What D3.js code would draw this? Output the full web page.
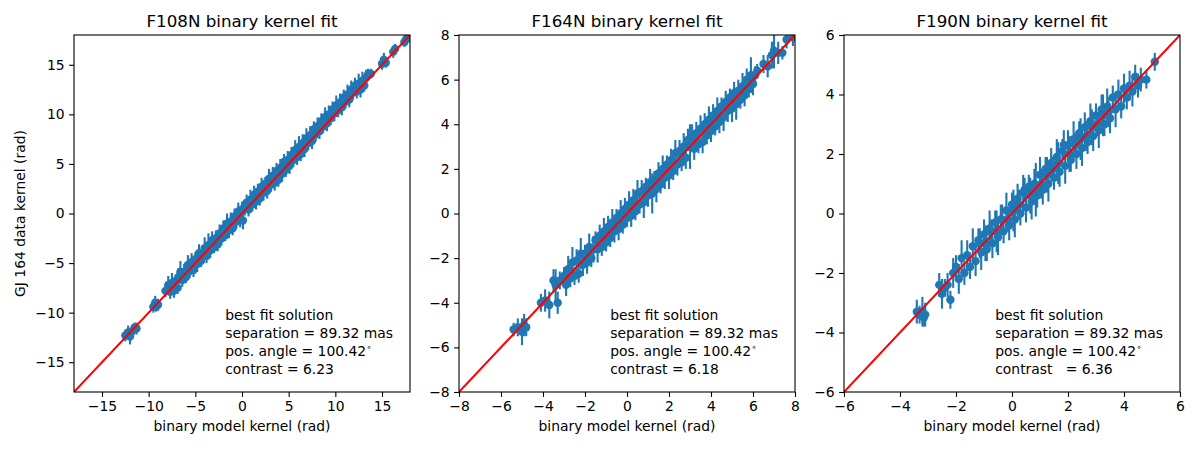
<!DOCTYPE html>
<html>
<head>
<meta charset="utf-8">
<script src="https://cdn.jsdelivr.net/npm/d3@7"></script>
<style>
  body { margin: 0; background: #fff; }
  text { font-family: "DejaVu Sans", sans-serif; fill: #000; }
</style>
</head>
<body>
<div id="chart"></div>
<script>
// [model kernel, data kernel, error]
const f108 = [
  [-12.5,-12.3,0.6],[-12.2,-12.0,0.7],[-12.0,-12.4,0.8],[-11.8,-11.9,0.6],[-11.5,-11.5,0.5],[-11.3,-11.6,0.6],
  [-9.5,-9.4,0.6],[-9.3,-9.0,0.7],[-9.2,-9.4,0.5],[-9.0,-9.2,0.6],
  [-8.2,-7.8,0.6],[-7.9,-7.2,0.9],[-7.7,-7.9,0.7],[-7.5,-7.0,1.0],[-7.3,-7.8,0.7],[-7.1,-6.8,0.6],[-6.9,-7.5,0.6],
  [-6.8,-6.4,0.9],[-6.6,-5.9,1.1],[-6.4,-6.7,0.7],[-6.2,-5.9,0.8],[-6.0,-6.4,0.6],[-5.8,-5.2,1.0],[-5.6,-5.8,0.7],
  [-5.4,-4.9,0.9],[-5.2,-5.7,0.7],[-5.0,-4.6,0.7],[-4.8,-5.1,0.8],[-4.6,-4.0,0.9],[-4.4,-4.8,0.6],[-4.2,-4.0,0.8],
  [-4.0,-3.5,1.1],[-3.8,-4.3,0.7],[-3.6,-3.2,1.2],[-3.4,-3.7,0.8],[-3.2,-2.7,0.9],[-3.0,-3.4,0.6],[-2.8,-2.5,0.8],
  [-2.6,-3.1,0.7],[-2.4,-2.0,0.9],[-2.2,-2.5,0.7],[-2.0,-1.5,0.8],[-1.8,-2.2,0.6],[-1.6,-1.0,1.0],[-1.4,-1.7,0.8],
  [-1.2,-0.8,0.9],[-1.0,-1.5,0.7],[-0.8,-0.3,0.8],[-0.6,-0.8,0.7],[-0.4,0.2,0.9],[-0.2,-0.6,0.8],[0.0,0.4,0.8],
  [0.1,-0.7,0.9],[0.3,0.5,0.7],[0.5,1.1,0.8],[0.7,0.4,0.7],[0.9,1.4,1.0],[1.1,0.9,0.7],[1.3,1.9,0.9],[1.5,1.2,0.8],
  [1.7,2.2,0.8],[1.9,1.5,0.7],[2.1,2.7,0.9],[2.3,2.1,0.8],[2.5,3.0,0.7],[2.7,2.3,0.8],[2.9,3.5,1.0],[3.1,2.9,0.7],
  [3.3,3.8,0.9],[3.5,3.1,0.8],[3.7,4.3,0.8],[3.9,3.4,0.7],[4.1,4.6,0.9],[4.3,4.0,0.8],[4.5,5.2,0.8],[4.7,4.4,0.7],
  [4.9,5.4,0.9],[5.1,4.8,0.8],[5.3,5.9,0.8],[5.5,5.4,0.7],[5.7,6.4,1.0],[5.9,5.7,0.8],[6.1,6.7,1.1],[6.3,6.0,0.7],
  [6.5,7.1,0.9],[6.7,6.5,0.8],[6.9,7.6,1.0],[7.1,7.1,0.7],[7.3,7.9,0.9],[7.5,7.3,0.8],[7.7,8.5,0.8],[7.9,8.0,0.7],
  [8.1,8.8,0.9],[8.3,8.3,0.8],[8.5,9.3,0.8],[8.7,8.8,0.7],[8.9,9.7,1.0],[9.1,9.1,0.8],[9.3,10.0,0.9],[9.5,9.6,0.7],
  [9.7,10.5,0.8],[9.9,10.1,0.8],[10.1,10.9,1.0],[10.3,10.4,0.7],[10.5,11.2,0.9],[10.7,10.7,0.8],[10.9,11.7,0.8],
  [11.1,11.3,0.7],[11.3,12.0,1.0],[11.5,11.5,0.8],[11.7,12.5,0.9],[11.9,12.2,0.7],[12.1,12.9,0.8],[12.3,12.3,0.7],
  [12.5,13.1,1.0],[12.7,12.5,0.8],[12.9,13.4,0.9],[13.1,12.9,0.6],[13.3,13.7,0.8],[13.5,14.0,0.6],[13.8,14.1,0.5],
  [15.0,15.1,0.6],[15.2,15.5,0.7],[15.4,15.2,0.5],[16.2,16.3,0.6],[16.4,16.6,0.5],
  [17.4,17.3,0.5],[17.6,17.6,0.6],[17.8,17.7,0.4]
];

const f164 = [
  [-5.4,-5.2,0.3],[-5.2,-5.1,0.4],[-5.0,-5.3,0.6],[-4.9,-5.0,0.5],[-4.8,-5.1,0.4],
  [-4.1,-4.0,0.4],[-3.9,-3.9,0.5],[-3.7,-4.1,0.6],[-3.5,-3.0,0.5],[-3.4,-3.2,0.7],[-3.3,-4.0,0.5],[-3.2,-3.0,0.4],
  [-3.0,-2.8,0.4],[-2.9,-3.2,0.5],[-2.8,-2.5,0.6],[-2.7,-2.9,0.4],[-2.6,-2.2,0.7],[-2.5,-2.8,0.4],[-2.4,-2.1,0.5],
  [-2.3,-2.7,0.4],[-2.2,-1.8,0.7],[-2.1,-2.3,0.5],[-2.0,-1.8,0.4],[-1.9,-2.2,0.5],[-1.8,-1.5,0.6],[-1.7,-2.0,0.4],
  [-1.6,-1.6,0.6],[-1.5,-1.2,0.4],[-1.4,-1.6,0.6],[-1.3,-1.0,0.5],[-1.2,-1.5,0.4],[-1.1,-0.8,0.6],[-1.0,-1.3,0.4],
  [-0.9,-0.6,0.5],[-0.8,-1.1,0.4],[-0.7,-0.4,0.6],[-0.6,-0.8,0.5],[-0.5,-0.2,0.4],[-0.4,-0.7,0.5],[-0.3,0.0,0.6],
  [-0.2,-0.5,0.4],[-0.1,0.2,0.5],[0.0,-0.2,0.4],[0.1,0.4,0.6],[0.2,-0.1,0.5],[0.3,0.6,0.5],[0.4,0.1,0.4],
  [0.5,0.9,0.6],[0.6,0.4,0.4],[0.7,1.0,0.5],[0.8,0.5,0.7],[0.9,1.2,0.4],[1.0,0.8,0.5],[1.1,1.4,0.6],[1.2,0.9,0.9],
  [1.3,1.5,0.4],[1.4,1.1,0.6],[1.5,1.8,0.5],[1.6,1.3,0.4],[1.7,2.0,0.6],[1.8,1.6,0.5],[1.9,2.2,0.4],[2.0,1.7,0.6],
  [2.1,2.4,0.5],[2.2,1.9,0.4],[2.3,2.7,0.6],[2.4,2.2,0.5],[2.5,2.8,0.5],[2.6,2.3,0.4],[2.7,3.0,0.6],[2.8,2.5,0.5],
  [2.9,3.3,0.5],[3.0,3.0,1.0],[3.1,3.4,0.6],[3.2,2.9,0.5],[3.3,3.6,0.5],[3.4,3.1,0.4],[3.5,3.8,0.6],[3.6,3.2,0.5],
  [3.7,4.0,0.5],[3.8,3.5,0.4],[3.9,4.2,0.6],[4.0,3.7,0.5],[4.1,4.4,0.5],[4.2,3.9,0.4],[4.3,4.6,0.6],[4.4,4.1,0.5],
  [4.5,4.8,0.4],[4.6,4.3,0.6],[4.7,5.0,0.5],[4.8,4.6,0.5],[4.9,5.2,0.4],[5.0,4.7,0.6],[5.1,5.4,0.5],[5.2,4.9,0.7],
  [5.3,5.5,0.5],[5.4,5.1,0.4],[5.5,5.7,0.6],[5.6,5.3,0.5],[5.7,6.0,0.5],[5.8,5.6,0.4],[5.9,6.2,0.8],[6.0,5.8,0.5],
  [6.1,6.2,0.4],[6.2,6.4,0.3],[6.5,6.7,0.4],[6.7,6.6,0.5],[6.9,7.1,0.6],[7.0,7.3,0.8],[7.2,7.2,0.5],[7.4,7.2,0.3],
  [7.6,7.8,0.4],[7.9,7.9,0.4]
];

const f190 = [
  [-3.4,-3.3,0.4],[-3.3,-3.4,0.3],[-3.2,-3.3,0.5],[-3.15,-3.5,0.3],[-3.1,-3.4,0.4],
  [-2.6,-2.4,0.4],[-2.5,-2.7,0.5],[-2.4,-2.5,0.3],[-2.3,-2.4,0.4],[-2.2,-2.9,0.3],[-2.1,-2.0,0.5],
  [-2.0,-1.8,0.4],[-1.9,-2.2,0.5],[-1.8,-1.5,0.6],[-1.7,-2.0,0.4],[-1.6,-1.4,0.5],[-1.5,-1.8,0.4],[-1.4,-1.1,0.6],
  [-1.3,-1.6,0.5],[-1.2,-0.9,0.4],[-1.15,-1.0,0.5],[-1.1,-1.3,0.6],[-1.0,-0.7,0.5],[-0.95,-1.0,0.6],[-0.9,-1.2,0.4],
  [-0.8,-0.5,0.6],[-0.75,-0.6,0.4],[-0.7,-1.0,0.5],[-0.6,-0.3,0.4],[-0.55,-0.6,0.7],[-0.5,-0.8,0.6],[-0.4,-0.2,0.5],
  [-0.35,-0.2,0.5],[-0.3,-0.6,0.4],[-0.2,0.1,0.6],[-0.15,-0.2,0.4],[-0.1,-0.4,0.5],[0.0,0.3,0.4],[0.05,0.1,0.7],
  [0.1,-0.2,0.6],[0.2,0.5,0.5],[0.25,0.3,0.5],[0.3,0.0,0.4],[0.4,0.7,0.6],[0.45,0.8,0.4],[0.5,0.2,0.5],[0.6,0.9,0.4],
  [0.65,0.6,0.6],[0.7,0.4,0.6],[0.8,1.0,0.5],[0.85,0.8,0.9],[0.9,0.6,0.4],[1.0,1.3,0.6],[1.05,1.0,0.5],[1.1,0.8,0.5],
  [1.2,1.5,0.4],[1.25,1.3,0.6],[1.3,1.0,0.6],[1.4,1.7,0.5],[1.45,1.5,0.4],[1.5,1.2,0.4],[1.6,1.9,0.6],[1.65,1.7,0.7],
  [1.7,1.4,0.5],[1.8,2.1,0.4],[1.85,2.3,0.5],[1.9,1.6,0.6],[2.0,2.3,0.5],[2.05,2.0,0.6],[2.1,1.8,0.4],[2.2,2.5,0.6],
  [2.25,2.3,0.4],[2.3,2.0,0.5],[2.4,2.7,0.4],[2.45,2.5,0.7],[2.5,2.2,0.6],[2.6,2.9,0.5],[2.65,2.6,0.5],[2.7,2.4,0.4],
  [2.8,3.1,0.6],[2.85,2.9,0.6],[2.9,2.6,0.5],[3.0,3.3,0.4],[3.05,3.0,0.4],[3.1,2.8,0.6],[3.2,3.5,0.5],[3.25,3.3,0.7],
  [3.3,3.0,0.4],[3.4,3.6,0.6],[3.45,3.4,0.5],[3.5,3.2,0.5],[3.6,3.9,0.4],[3.7,3.5,0.6],[3.8,4.0,0.5],[3.9,3.6,0.4],
  [4.0,4.2,0.5],[4.1,3.9,0.4],[4.2,4.3,0.5],[4.3,4.1,0.5],[4.4,4.6,0.4],[4.5,4.3,0.4],[4.6,4.5,0.4],[4.8,4.5,0.3],
  [5.1,5.1,0.3]
];

const panels = [
  { title: "F108N binary kernel fit", data: f108, lim: 18, ticks: [-15, -10, -5, 0, 5, 10, 15], contrast: "contrast = 6.23" },
  { title: "F164N binary kernel fit", data: f164, lim: 8, ticks: [-8, -6, -4, -2, 0, 2, 4, 6, 8], contrast: "contrast = 6.18" },
  { title: "F190N binary kernel fit", data: f190, lim: 6, ticks: [-6, -4, -2, 0, 2, 4, 6], contrast: "contrast   = 6.36" }
];

const W = 1200, H = 450;
const lefts = [74, 459, 844];
const mTop = 35, pw = 336, ph = 357;
const blue = "#1f77b4";

const svg = d3.select("#chart").append("svg")
  .attr("width", W).attr("height", H);

panels.forEach((p, i) => {
  const g = svg.append("g").attr("transform", `translate(${lefts[i]},${mTop})`);
  const x = d3.scaleLinear().domain([-p.lim, p.lim]).range([0, pw]);
  const y = d3.scaleLinear().domain([-p.lim, p.lim]).range([ph, 0]);

  g.append("clipPath").attr("id", "clip" + i)
    .append("rect").attr("width", pw).attr("height", ph);

  const plot = g.append("g").attr("clip-path", `url(#clip${i})`);

  // error bars
  plot.selectAll(".eb").data(p.data).enter().append("line")
    .attr("x1", d => x(d[0])).attr("x2", d => x(d[0]))
    .attr("y1", d => y(d[1] - d[2])).attr("y2", d => y(d[1] + d[2]))
    .attr("stroke", blue).attr("stroke-width", 2.1);

  // markers
  plot.selectAll(".pt").data(p.data).enter().append("circle")
    .attr("cx", d => x(d[0])).attr("cy", d => y(d[1]))
    .attr("r", 4.2).attr("fill", blue);

  // y = x
  plot.append("line")
    .attr("x1", x(-p.lim)).attr("y1", y(-p.lim))
    .attr("x2", x(p.lim)).attr("y2", y(p.lim))
    .attr("stroke", "red").attr("stroke-width", 2);

  const xa = g.append("g").attr("transform", `translate(0,${ph})`)
    .call(d3.axisBottom(x).tickValues(p.ticks).tickSize(4.9).tickPadding(4.5));
  const ya = g.append("g")
    .call(d3.axisLeft(y).tickValues(p.ticks).tickSize(4.9).tickPadding(4.5));
  [xa, ya].forEach(a => {
    a.select(".domain").remove();
    a.selectAll("text").style("font-size", "13.9px").style("font-family", "DejaVu Sans");
    a.selectAll("line").attr("stroke", "#000").attr("stroke-width", 1.1);
  });

  g.append("rect").attr("width", pw).attr("height", ph)
    .attr("fill", "none").attr("stroke", "#000").attr("stroke-width", 1.1);

  g.append("text").attr("x", pw / 2).attr("y", -8.3)
    .attr("text-anchor", "middle").style("font-size", "16.7px").text(p.title);

  g.append("text").attr("x", pw / 2).attr("y", ph + 39)
    .attr("text-anchor", "middle").style("font-size", "13.9px").text("binary model kernel (rad)");

  // fit annotation
  const tx = pw * 0.45;
  const note = g.append("g").style("font-size", "13.9px");
  note.append("text").attr("x", tx).attr("y", 285).text("best fit solution");
  note.append("text").attr("x", tx).attr("y", 303).text("separation = 89.32 mas");
  const pa = note.append("text").attr("x", tx).attr("y", 321).text("pos. angle = 100.42");
  pa.append("tspan").attr("dy", -6).style("font-size", "9px").text("∘");
  note.append("text").attr("x", tx).attr("y", 338.5)
    .style("white-space", "pre").attr("xml:space", "preserve").text(p.contrast);
});

svg.append("text")
  .attr("transform", `translate(25,${mTop + ph / 2}) rotate(-90)`)
  .attr("text-anchor", "middle").style("font-size", "13.9px")
  .text("GJ 164 data kernel (rad)");
</script>
</body>
</html>
